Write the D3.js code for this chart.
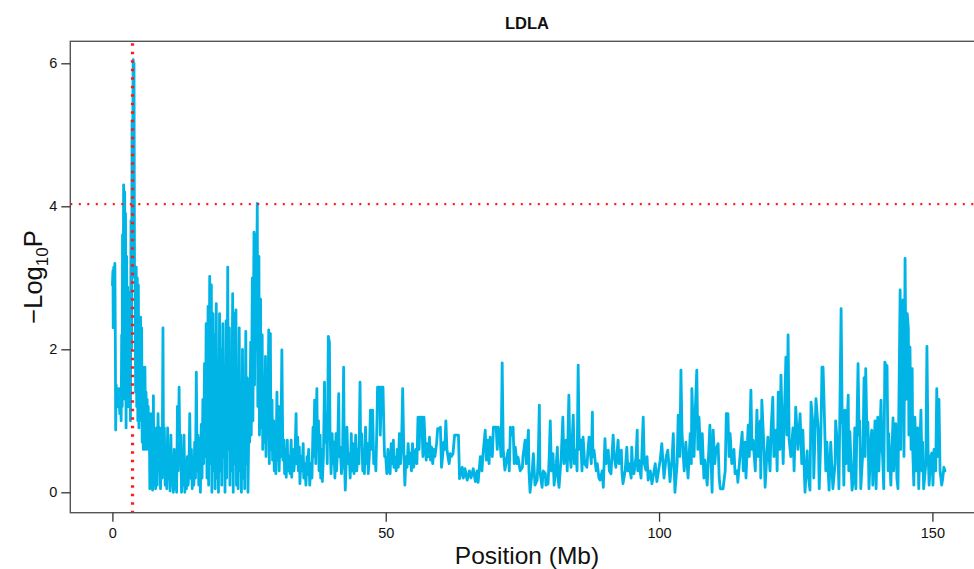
<!DOCTYPE html>
<html><head><meta charset="utf-8">
<script src="https://cdn.jsdelivr.net/npm/d3@7/dist/d3.min.js"></script>
<style>
body{margin:0;background:#fff;}
svg{display:block;}
text{font-family:"Liberation Sans",Arial,Helvetica,sans-serif;fill:#111;}
</style>
</head><body>
<script>
const chartTitle = "LDLA";
const xAxisTitle = "Position (Mb)";
const xTicks = [0, 50, 100, 150];
const yTicks = [0, 2, 4, 6];
const thresholdValue = 4.03;
const peakPosition = 3.68;

const positions = [
0.00,0.10,0.15,0.25,0.35,0.45,0.55,0.60,0.70,0.80,0.95,1.05,1.20,1.35,1.50,1.60,1.70,1.80,1.85,1.95,
2.05,2.15,2.25,2.30,2.40,2.50,2.60,2.70,2.80,2.90,3.00,3.10,3.20,3.30,3.40,3.50,3.60,3.70,3.80,3.90,
3.95,4.05,4.15,4.25,4.35,4.45,4.55,4.65,4.75,4.85,4.95,5.05,5.15,5.25,5.35,5.45,5.55,5.65,5.75,5.85,
5.95,6.05,6.15,6.25,6.35,6.45,6.55,6.65,6.75,6.85,7.00,7.10,7.25,7.35,7.50,7.60,7.75,7.90,
8.05,8.20,8.35,8.50,8.65,8.80,8.95,9.10,9.25,9.35,9.50,9.65,9.80,9.95,10.10,10.25,10.40,10.55,10.70,10.85,
11.00,11.15,11.30,11.45,11.60,11.75,11.90,12.05,12.20,12.35,12.50,12.65,12.80,12.95,13.10,13.25,13.40,13.55,13.70,13.85,
14.00,14.15,14.30,14.45,14.60,14.75,14.90,15.05,15.20,15.35,15.50,15.65,15.80,15.95,16.10,16.25,16.40,16.55,16.70,16.85,
17.00,17.15,
17.3,17.5,17.6,17.8,17.9,18.1,18.2,18.4,18.5,18.7,18.8,19.0,19.1,19.3,19.4,19.6,19.7,19.9,20.0,20.2,
20.3,20.5,20.6,20.8,20.9,21.1,21.2,21.4,21.5,21.7,21.8,22.0,22.1,22.3,22.4,22.6,22.7,22.9,23.0,23.2,
23.3,23.5,23.6,23.8,23.9,24.1,24.2,24.4,24.5,24.7,24.8,25.0,25.1,25.3,25.4,25.6,25.7,25.9,26.0,26.2,
26.3,26.5,26.6,26.8,26.9,27.1,27.2,27.4,27.5,27.7,27.8,28.0,28.1,28.3,28.4,28.6,28.7,
28.9,29.0,29.2,29.3,29.5,29.6,29.8,29.9,30.1,30.2,30.4,30.5,30.7,30.8,31.0,31.1,31.2,31.4,31.5,31.7,
31.8,32.0,32.1,32.3,32.5,32.7,32.8,33.0,33.2,33.4,33.6,33.7,33.9,34.0,34.2,34.3,34.5,34.7,34.9,35.0,
35.2,35.4,35.6,35.7,35.9,36.1,36.3,36.5,36.7,36.8,37.0,37.2,37.4,37.5,37.7,37.8,38.0,38.1,38.3,38.4,
38.6,38.8,38.9,39.1,39.3,39.5,39.7,39.8,40.0,40.2,40.3,40.5,40.7,40.9,41.0,41.2,41.4,41.5,41.7,41.9,
42.1,42.3,42.4,42.6,42.8,42.9,43.1,43.3,43.5,43.7,43.8,44.0,44.2,44.4,44.5,44.7,44.9,45.1,45.3,45.4,
45.6,45.8,46.0,46.1,46.3,46.5,46.7,46.8,47.0,47.2,47.4,47.6,47.8,48.0,48.2,48.4,48.5,48.9,49.0,49.2,
49.5,49.7,49.8,50.0,50.2,50.4,50.6,50.8,51.0,51.2,51.4,51.5,51.7,51.9,52.1,52.3,52.5,52.7,52.9,53.1,
53.3,53.5,53.7,53.9,54.1,54.3,54.5,54.7,54.9,55.1,55.3,55.5,55.7,55.9,56.1,56.3,56.6,56.8,57.0,57.2,
57.4,57.6,57.8,58.0,58.2,58.4,58.6,58.8,59.0,59.3,59.5,59.8,60.0,60.2,60.4,60.6,60.8,61.0,61.2,61.4,
61.6,61.8,62.0,62.3,62.6,63.0,63.3,63.5,
64.0,64.2,64.5,64.9,65.3,65.6,66.0,66.4,66.7,66.9,67.3,67.6,67.8,68.2,68.4,68.7,68.9,69.1,69.5,69.7,
70.2,70.4,70.6,70.9,71.1,71.3,71.5,71.8,72.2,72.4,72.6,72.8,73.1,73.3,73.5,73.7,74.0,74.2,74.6,75.0,
75.1,75.5,75.7,76.1,76.2,76.4,76.8,77.0,77.3,77.7,77.9,78.1,78.2,78.6,78.8,79.2,79.3,79.7,79.9,80.1,
80.3,80.6,80.8,81.2,81.4,81.5,81.7,82.1,82.4,82.6,83.0,83.2,83.5,83.7,83.9,84.3,84.5,84.8,85.0,85.2,
85.4,85.7,85.9,86.1,86.4,86.8,87.0,87.2,87.6,87.8,87.9,88.1,88.5,88.7,89.0,89.2,89.6,89.8,90.1,90.3,
90.7,90.9,91.2,91.6,91.8,92.1,92.5,92.7,93.1,93.2,93.4,93.8,94.1,94.3,94.5,94.9,95.0,95.2,95.4,95.8,
96.0,96.1,96.3,96.7,96.9,97.1,97.3,97.6,97.8,98.0,
98.4,98.7,99.3,99.6,100.2,100.5,100.9,101.3,101.6,102.0,102.4,102.6,102.9,103.3,103.5,103.8,104.0,104.2,104.6,104.9,
105.3,105.7,105.9,106.0,106.4,106.6,106.9,107.1,107.3,107.7,107.9,108.2,108.4,108.8,109.1,109.3,109.7,109.9,110.2,110.4,
110.8,111.0,111.2,111.7,112.1,112.3,112.6,112.8,113.0,113.3,113.7,113.9,114.3,114.4,114.8,115.2,115.4,115.7,115.9,116.3,
116.5,116.8,117.0,117.2,117.6,117.9,118.1,118.5,118.6,118.8,119.2,119.4,119.7,119.9,120.3,120.5,120.8,121.0,121.4,121.6,
121.8,122.1,122.3,122.7,122.9,123.2,123.4,123.6,123.8,124.1,124.5,124.7,125.0,125.4,125.8,126.1,126.3,126.7,127.1,127.2,
127.6,127.8,128.2,128.3,128.7,129.1,129.3,129.6,129.8,130.0,130.2,130.5,130.7,131.1,131.4,131.8,132.2,132.3,132.7,132.9,
133.3,133.5,133.6,133.8,134.0,134.2,134.6,134.7,134.9,135.3,135.6,135.8,136.0,136.4,136.6,136.7,136.9,137.3,137.5,137.7,
137.8,138.0,138.2,138.4,138.8,138.9,139.1,139.5,139.7,140.0,140.2,140.6,140.8,140.9,141.1,141.3,141.5,141.7,141.9,142.0,
142.4,142.8,142.9,143.3,143.5,143.7,144.1,144.2,144.4,144.6,144.8,145.0,145.2,145.4,145.6,145.7,145.9,146.1,146.3,146.4,
146.6,146.8,147.0,147.3,147.5,147.9,148.1,148.2,148.4,148.8,149.0,149.2,149.4,149.7,149.9,150.1,150.3,150.6,150.8,151.0,
151.2,151.4,151.7,151.9,152.1,152.3
];

const values = [
2.9,3.1,2.3,3.15,2.5,3.2,1.9,0.87,1.5,1.3,1.4,1.2,1.45,1.1,1.35,1.0,2.2,1.2,3.6,2.0,
4.3,3.2,4.2,1.3,3.9,0.9,3.3,1.4,2.87,1.2,2.8,1.3,2.6,1.0,3.8,2.0,5.2,4.6,6.05,5.5,
6.0,3.0,3.1,1.4,3.15,1.2,3.0,1.0,2.9,0.9,2.4,1.2,2.45,1.0,2.3,0.7,1.75,0.6,1.6,0.6,
1.75,0.9,1.4,0.6,1.3,0.8,1.2,0.6,1.0,0.05,1.1,0.1,0.9,0.03,1.35,0.1,0.8,0.05,
0.9,0.1,1.1,0.3,0.9,0.05,0.6,0.2,2.3,0.5,0.9,0.1,0.4,0.05,0.9,0.2,0.5,0.02,0.8,0.1,
0.3,0.0,0.6,0.05,0.4,0.0,1.2,0.3,1.47,0.4,0.8,0.0,0.5,0.1,0.8,0.0,0.35,0.05,0.5,0.1,
0.3,1.1,0.2,0.6,0.05,0.4,0.1,0.7,0.2,1.68,0.3,0.8,0.1,0.75,0.0,0.95,0.2,1.3,0.4,1.8,
0.5,2.36,
0.2,2.6,0.1,3.02,0.4,2.9,0.0,2.5,0.3,2.2,0.05,2.64,0.2,1.8,0.0,2.5,0.3,2.0,0.1,2.36,
0.5,1.6,0.0,2.4,0.2,3.15,0.6,2.3,0.1,1.9,0.3,2.78,0.0,2.5,0.4,2.55,0.1,1.7,0.05,2.3,
0.3,1.5,0.0,2.0,0.2,1.3,0.05,2.25,0.4,1.6,0.0,1.2,0.7,2.1,0.8,3.0,1.0,3.64,1.5,3.6,
2.0,4.04,1.2,3.3,0.8,2.7,0.9,2.2,0.6,1.6,0.7,1.9,0.5,1.4,0.8,2.27,0.4,
2.22,0.6,1.29,0.45,1.0,0.3,0.73,0.26,1.4,0.45,1.2,0.3,0.9,0.5,1.99,1.15,0.45,0.73,0.26,0.6,
0.21,0.73,0.3,0.5,0.26,0.73,0.21,0.6,0.3,0.5,1.1,0.4,0.77,0.3,0.63,0.12,0.5,0.3,0.68,0.2,
0.4,0.1,0.5,0.25,0.6,0.1,0.4,0.2,0.91,0.5,1.29,0.4,1.45,0.6,1.0,0.3,0.8,0.2,0.6,0.15,
0.5,1.54,0.7,1.1,0.4,2.18,2.1,0.9,0.26,0.82,0.4,0.7,0.2,0.82,0.3,0.6,1.38,0.5,0.63,0.26,
0.5,1.75,0.6,0.03,0.5,0.91,0.4,0.54,0.2,0.82,0.3,0.68,0.26,0.5,0.8,0.3,0.6,0.4,1.54,0.7,
0.82,0.3,0.6,0.26,0.91,0.4,0.68,0.26,0.5,1.15,0.6,1.15,0.4,0.54,0.3,1.0,1.47,1.47,0.8,1.47,
1.47,0.73,0.5,0.49,0.26,0.6,0.3,0.26,0.68,0.4,0.73,0.35,0.49,0.3,0.6,0.35,0.82,0.4,0.7,1.45,
0.6,0.1,0.5,0.35,0.68,0.4,0.55,0.3,0.68,0.35,0.45,0.6,0.4,1.05,0.6,1.05,1.05,0.5,1.05,0.7,
0.45,0.68,0.5,0.77,0.45,0.63,0.4,0.6,0.5,0.68,0.89,0.89,0.91,0.35,0.5,0.7,0.6,1.0,0.6,0.49,
0.4,0.54,0.5,0.54,0.8,0.8,0.8,0.19,
0.35,0.2,0.33,0.17,0.3,0.2,0.33,0.15,0.3,0.14,0.5,0.3,0.54,0.87,0.45,0.73,0.4,0.77,0.5,0.91,
0.91,0.6,0.91,0.73,0.5,1.81,0.59,0.31,0.5,0.59,0.3,0.91,0.8,0.91,0.4,0.63,0.4,0.49,0.3,0.35,
0.5,0.73,0.4,0.87,0.3,0.0,0.3,0.54,0.1,0.17,0.5,1.22,0.3,0.07,0.3,0.26,0.1,0.12,0.5,1.0,
0.3,0.54,0.1,0.4,0.63,0.2,0.07,0.5,1.05,0.4,0.73,0.3,1.36,0.5,0.35,1.08,0.4,0.59,0.3,1.78,
0.6,0.73,0.3,0.77,0.4,0.35,0.6,0.77,0.4,1.12,0.5,0.59,0.3,0.4,0.2,0.17,0.3,0.07,0.75,0.4,
0.59,0.3,0.26,0.8,0.5,0.35,0.73,0.4,0.59,0.3,0.12,0.3,0.63,0.3,0.4,0.2,0.63,0.3,0.26,0.5,
0.87,0.3,0.45,0.2,0.63,1.05,0.4,0.31,0.5,0.17,
0.3,0.12,0.4,0.15,0.45,0.68,0.2,0.5,0.59,0.15,0.5,0.82,0.0,0.4,1.08,0.5,1.71,0.82,0.3,0.7,
0.2,0.82,0.4,1.45,0.5,1.1,1.71,0.6,1.05,0.4,0.82,0.2,0.45,0.1,0.6,0.94,0.0,0.87,0.4,0.6,
0.68,0.2,0.05,0.05,0.3,1.1,1.1,0.5,0.82,0.4,0.6,0.26,0.3,0.14,0.5,0.84,0.3,0.7,0.2,0.94,
0.5,1.43,0.6,0.73,0.3,1.15,0.5,1.0,0.2,1.29,0.6,0.07,0.5,0.77,0.3,0.9,1.33,0.5,0.87,0.3,
1.40,0.6,1.64,0.4,1.0,1.89,0.8,2.2,0.73,0.5,0.9,0.3,1.19,0.6,1.1,0.4,0.87,0.0,0.58,0.3,
0.03,1.26,0.9,0.2,1.31,0.9,0.05,0.8,1.75,1.75,1.2,0.3,0.7,0.03,0.7,0.05,0.4,1.0,0.6,0.05,
2.57,1.0,0.95,0.1,1.15,0.4,1.36,0.3,0.85,0.03,0.2,0.9,0.05,1.8,0.8,1.0,0.05,0.6,1.6,0.5,
1.73,0.9,0.98,0.05,0.8,0.87,0.1,1.0,0.05,1.05,0.3,1.29,0.6,0.5,0.05,1.82,1.77,1.77,0.3,0.82,
0.1,1.04,0.3,0.96,0.2,0.05,2.83,0.6,2.65,2.69,0.5,3.27,1.3,2.5,2.29,0.8,2.03,0.6,1.73,0.6,
0.1,1.05,0.3,0.9,0.05,1.15,0.3,0.7,0.05,0.4,2.04,0.6,0.1,0.5,0.55,0.1,0.6,0.3,1.45,0.5,
1.3,0.3,0.1,0.2,0.35,0.3
];

const W = 974, H = 569;
const box = {left: 70.3, right: 984, top: 41.3, bottom: 512.7};

const svg = d3.select("body").append("svg").attr("width", W).attr("height", H);

const x = d3.scaleLinear().domain([0, 150]).range([112.4, 932.4]);
const y = d3.scaleLinear().domain([0, 6]).range([492.3, 63.3]);

const data = positions.map((p, i) => ({p, v: values[i]}));

svg.append("path")
  .datum(data)
  .attr("fill", "none")
  .attr("stroke", "#00b4e6")
  .attr("stroke-width", 2.8)
  .attr("stroke-linejoin", "round")
  .attr("stroke-linecap", "round")
  .attr("d", d3.line().x(d => x(d.p)).y(d => y(d.v)));

// threshold lines
svg.append("line")
  .attr("x1", box.left).attr("x2", box.right)
  .attr("y1", y(thresholdValue)).attr("y2", y(thresholdValue))
  .attr("stroke", "#ff1a1a").attr("stroke-width", 2.2)
  .attr("stroke-dasharray", "2,6.5");
svg.append("line")
  .attr("x1", x(peakPosition)).attr("x2", x(peakPosition))
  .attr("y1", box.top + 2).attr("y2", box.bottom)
  .attr("stroke", "#ff1a1a").attr("stroke-width", 3.2)
  .attr("stroke-dasharray", "2.5,6");

// box
svg.append("rect")
  .attr("x", box.left).attr("y", box.top)
  .attr("width", box.right - box.left).attr("height", box.bottom - box.top)
  .attr("fill", "none").attr("stroke", "#555").attr("stroke-width", 1.4);

// axes
const xAxis = svg.append("g").attr("transform", `translate(0,${box.bottom})`)
  .call(d3.axisBottom(x).tickValues(xTicks).tickSize(9).tickPadding(6).tickFormat(d3.format("d")));
const yAxis = svg.append("g").attr("transform", `translate(${box.left},0)`)
  .call(d3.axisLeft(y).tickValues(yTicks).tickSize(9).tickPadding(4).tickFormat(d3.format("d")));
[xAxis, yAxis].forEach(g => {
  g.select(".domain").remove();
  g.selectAll(".tick line").attr("stroke", "#333").attr("stroke-width", 1.3);
  g.selectAll(".tick text").attr("font-size", 14.5).attr("fill", "#111")
    .attr("font-family", '"Liberation Sans",Arial,sans-serif');
});

// titles
svg.append("text").attr("x", 527).attr("y", 29)
  .attr("text-anchor", "middle").attr("font-size", 16.5).attr("font-weight", "bold")
  .text(chartTitle);

svg.append("text").attr("x", 527).attr("y", 564)
  .attr("text-anchor", "middle").attr("font-size", 24.5)
  .text(xAxisTitle);

const yt = svg.append("text")
  .attr("transform", `translate(42,${(box.top + box.bottom) / 2}) rotate(-90)`)
  .attr("text-anchor", "middle").attr("font-size", 25.5);
yt.append("tspan").text("\u2212Log");
yt.append("tspan").attr("font-size", 17).attr("dy", 6).text("10");
yt.append("tspan").attr("dy", -6).text("P");
</script>
</body></html>
